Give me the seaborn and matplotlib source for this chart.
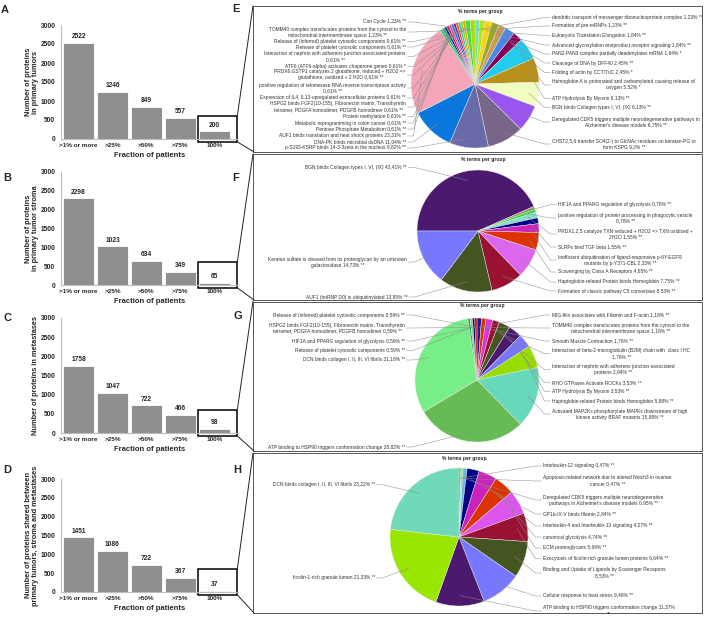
import matplotlib
matplotlib.use('Agg')
from matplotlib import pyplot as plt
from matplotlib.lines import Line2D
from matplotlib.patches import Rectangle
import numpy as np
import pandas as pd
import seaborn as sns

W, H = 704, 620

# bar charts (A-D)
fractions = ['>1% or more', '>25%', '>50%', '>75%', '100%']
tumor_counts = [2522, 1246, 849, 557, 200]
stroma_counts = [2298, 1023, 634, 349, 65]
metastasis_counts = [1758, 1047, 722, 466, 98]
shared_counts = [1451, 1086, 722, 367, 37]
bar_ylabels = [
    'Number of proteins\nin primary tumors',
    'Number of proteins\nin primary tumor stroma',
    'Number of proteins in metastases',
    'Number of proteins shared between\nprimary tumors, stroma and metastases',
]

# pie E: terms for the 100% proteins of primary tumors (clockwise from top)
e_terms = [
    'dendritic transport of messenger ribonucleoprotein complex',
    'Formation of pre-mRNPs',
    'Eukaryotic Translation Elongation',
    'Advanced glycosylation endproduct receptor signaling',
    'PAN2-PAN3 complex partially deadenylates mRNA',
    'Cleavage of DNA by DFF40',
    'Folding of actin by CCT/TriC',
    'Hemoglobin A is protonated and carbamylated causing release of\noxygen',
    'ATP Hydrolysis By Myosin',
    'BGN binds Collagen types I, VI, (IX)',
    'Deregulated CDK5 triggers multiple neurodegenerative pathways in\nAlzheimer\'s disease models',
    'CHST2,5,6 transfer SO4(2-) to GlcNAc residues on keratan-PG to\nform KSPG',
    'p-S193-KSRP binds 14-3-3zeta in the nucleus',
    'DNA-PK binds microbial dsDNA',
    'AUF1 binds translation and heat shock proteins',
    'Pentose Phosphate Metabolism',
    'Metabolic reprogramming in colon cancer',
    'Protein methylation',
    'HSPG2 binds FGF2(10-155), Fibronectin matrix, Transthyretin\ntetramer, PDGFA homodimer, PDGFB homodimer',
    'Expression of IL4, IL13-upregulated extracellular proteins',
    'positive regulation of telomerase RNA reverse transcriptase activity\n',
    'PRDX6:GSTP1 catalyzes 2 glutathione, reduced + H2O2 =>\nglutathione, oxidized + 2 H2O',
    'ATF6 (ATF6-alpha) activates chaperone genes',
    'Interaction of nephrin with adherens junction-associated proteins\n',
    'Release of platelet cytosolic components',
    'Release of (inferred) platelet cytosolic components',
    'TOMM40 complex translocates proteins from the cytosol to the\nmitochondrial intermembrane space',
    'Cori Cycle',
]
e_pcts = [1.23, 1.23, 1.84, 1.84, 1.84, 2.45, 2.45, 5.52, 6.13, 6.13, 6.75, 9.2,
          9.82, 11.04, 23.31, 0.61, 0.61, 0.61, 0.61, 0.61, 0.61, 0.61, 0.61,
          0.61, 0.61, 0.61, 1.23, 1.23]
e_stars = ['**', '**', '**', '**', '*', '**', '*', '*', '**', '**', '**', '**',
           '**', '**', '**', '**', '**', '**', '**', '**', '**', '**', '*',
           '**', '**', '**', '**', '**']

# pie F: 100% proteins of tumor stroma (clockwise from 9 o'clock)
f_terms = [
    'BGN binds Collagen types I, VI, (IX)',
    'HIF1A and PPARG regulation of glycolysis',
    'positive regulation of protein processing in phagocytic vesicle\n',
    'PRDX1,2,5 catalyze TXN reduced + H2O2 => TXN oxidized +\n2H2O',
    'SLRPs bind TGF beta',
    'Inefficient ubiquitination of ligand-responsive p-6Y-EGFR\nmutants by p-Y371-CBL',
    'Scavenging by Class A Receptors',
    'Haptoglobin-related Protein binds Hemoglobin',
    'Formation of classic pathway C5 convertase',
    'AUF1 (hnRNP D0) is ubiquitinylated',
    'Keratan sulfate is cleaved from its proteoglycan by an unknown\ngalactosidase',
]
f_pcts = [43.41, 0.78, 0.78, 1.55, 1.55, 2.33, 4.65, 7.75, 8.53, 13.95, 14.73]
f_stars = ['**'] * 11

# pie G: 100% proteins of metastases
g_terms = [
    'MIG-filin associates with Filamin and F-actin',
    'TOMM40 complex translocates proteins from the cytosol to the\nmitochondrial intermembrane space',
    'Smooth Muscle Contraction',
    'Interaction of beta-2-microglobulin (B2M) chain with  class I HC\n',
    'Interaction of nephrin with adherens junction-associated\nproteins',
    'RHO GTPases Activate ROCKs',
    'ATP Hydrolysis By Myosin',
    'Haptoglobin-related Protein binds Hemoglobin',
    'Activated MAP2Ks phosphorylate MAPKs downstream of high\nkinase activity BRAF mutants',
    'ATP binding to HSP90 triggers conformation change',
    'DCN binds collagen I, II, III, VI fibrils',
    'Release of platelet cytosolic components',
    'HIF1A and PPARG regulation of glycolysis',
    'HSPG2 binds FGF2(10-155), Fibronectin matrix, Transthyretin\ntetramer, PDGFA homodimer, PDGFB homodimer',
    'Release of (inferred) platelet cytosolic components',
]
g_pcts = [1.18, 1.18, 1.76, 1.76, 2.94, 3.53, 3.53, 5.88, 15.88, 28.82, 31.18,
          0.59, 0.59, 0.59, 0.59]
g_stars = ['**'] * 15

# pie H: 100% proteins shared
h_terms = [
    'Interleukin-12 signaling',
    'Apoptosis-related network due to altered Notch3 in ovarian\ncancer',
    'Deregulated CDK5 triggers multiple neurodegenerative\npathways in Alzheimer\'s disease models',
    'GP1b-IX-V binds filamin',
    'Interleukin-4 and Interleukin-13 signaling',
    'canonical glycolysis',
    'ECM proteoglycans',
    'Exocytosis of ficolin-rich granule lumen proteins',
    'Binding and Uptake of Ligands by Scavenger Receptors\n',
    'Cellular response to heat stress',
    'ATP binding to HSP90 triggers conformation change',
    'ficolin-1-rich granule lumen',
    'DCN binds collagen I, II, III, VI fibrils',
]
h_pcts = [0.47, 0.47, 0.95, 2.84, 4.27, 4.74, 5.69, 6.64, 8.53, 9.48, 11.37, 21.33, 23.22]
h_stars = ['**'] * 10 + ['\n**', '**', '**']

# styling / layout
e_colors = ['#77ddbb', '#aaee11', '#ffd21a', '#99aa22', '#cc9955', '#4488ee', '#880055',
            '#22ccee', '#b8901a', '#f0ffc0', '#9955ee', '#776688', '#6a6aaa', '#0a77dd',
            '#f4a6b8', '#33cc55', '#00aa77', '#001177', '#cc1144', '#dd44aa', '#2266dd',
            '#771199', '#ff5500', '#22ccdd', '#99cc00', '#ddaa00', '#44dd44', '#aadd00']
f_colors = ['#4b1a6e', '#99996a', '#22dd33', '#88ddcc', '#000088', '#cc22bb',
            '#dd3300', '#dd66ee', '#991133', '#445522', '#7777ff']
g_colors = ['#1a1a99', '#dd3300', '#dd33dd', '#991133', '#445522', '#4b1a6e', '#7777ff',
            '#99dd00', '#66d9bb', '#66bb55', '#77ee88', '#22aa44', '#88ccaa', '#000066', '#cc0000']
h_colors = ['#33cc33', '#99ddbb', '#66bbdd', '#000088', '#cc22bb', '#dd3300', '#dd55ee',
            '#991133', '#445522', '#7777ff', '#4b1a6e', '#99e600', '#6fd9b9']

e_sides = ['R'] * 12 + ['L'] * 16
e_label_y = [17.5, 26, 35.5, 45, 54, 63, 72.5, 85, 98.6, 107.5, 122, 144,
             148, 142, 136, 129, 123, 116.5, 107, 98, 88, 75, 66.5, 56.5, 47, 41.5, 32, 22]
f_sides = ['L'] + ['R'] * 8 + ['L', 'L']
f_label_y = [167.5, 204.7, 218, 234, 247, 260, 272, 282, 291, 297, 262]
g_sides = ['R'] * 9 + ['L'] * 6
g_label_y = [315, 328, 341, 353.7, 369.5, 382.8, 391.5, 401, 414, 447, 360, 350.7, 341, 328, 315]
h_sides = ['R'] * 11 + ['L', 'L']
h_label_y = [466, 481, 500, 514, 526, 537, 548, 558.8, 573, 596, 611, 578, 484.8]

LABEL_SIZE = 3.55

sns.set_theme(style='white')
plt.rcParams['font.family'] = ['Liberation Sans', 'DejaVu Sans']

fig = plt.figure(figsize=(W / 100, H / 100), dpi=100)


def fig_xy(x, y):
    return x / W, 1 - y / H


def draw_bars(letter, letter_xy, counts, ylabel, top, bottom, pie_top, pie_bottom):
    ax = fig.add_axes([61 / W, 1 - bottom / H, 177 / W, (bottom - top) / H])
    df = pd.DataFrame({'fraction': fractions, 'count': counts})
    sns.barplot(data=df, x='fraction', y='count', color='#8f8f8f', saturation=1,
                width=0.92, edgecolor='white', linewidth=0.6, errorbar=None, ax=ax)
    ax.set_xlim(-0.52, 4.7)
    ax.set_ylim(0, 3000)
    ax.set_yticks(range(0, 3001, 500))
    ax.bar_label(ax.containers[0], fmt='%d', padding=2, fontsize=4.8, fontweight='bold')
    ax.set_ylabel(ylabel, fontsize=5.3, fontweight='bold', labelpad=1, linespacing=1.0)
    ax.set_xlabel('Fraction of patients', fontsize=5.5, fontweight='bold', labelpad=3)
    ax.tick_params(axis='x', length=0, pad=3, labelsize=4.6)
    ax.tick_params(axis='y', length=2, width=0.6, color='#bdbdbd', pad=2, labelsize=4.8)
    for t in ax.get_xticklabels() + ax.get_yticklabels():
        t.set_fontweight('bold')
    sns.despine(ax=ax)
    for s in ('left', 'bottom'):
        ax.spines[s].set_color('#bdbdbd')
        ax.spines[s].set_linewidth(0.8)
    # zoom box around the 100% bar
    ax.add_patch(Rectangle((3.52, -75), 1.16, 680, fill=False, ec='black', lw=1.1, clip_on=False))
    to_fig = ax.transData + fig.transFigure.inverted()
    p_top = to_fig.transform((4.68, 605))
    p_bot = to_fig.transform((4.68, -75))
    q_top = fig_xy(253, pie_top)
    q_bot = fig_xy(254, pie_bottom)
    fig.add_artist(Line2D([p_top[0], q_top[0]], [p_top[1], q_top[1]],
                          transform=fig.transFigure, color='#222222', lw=0.7))
    fig.add_artist(Line2D([p_bot[0], q_bot[0]], [p_bot[1], q_bot[1]],
                          transform=fig.transFigure, color='#222222', lw=0.7))
    lx, ly = fig_xy(*letter_xy)
    fig.text(lx, ly, letter, fontsize=8, fontweight='bold', ha='left', va='top')


def draw_pie(letter, letter_xy, terms, pcts, stars, colors, sides, label_y,
             box, center, radius, start, x_left, x_right, title_y):
    x0, y0, x1, y1 = box
    ax = fig.add_axes([x0 / W, 1 - y1 / H, (x1 - x0) / W, (y1 - y0) / H])
    cx, cy = center[0], H - center[1]
    wedges, _ = ax.pie(pcts, colors=colors, startangle=start, counterclock=False,
                       center=(cx, cy), radius=radius, frame=True,
                       wedgeprops=dict(edgecolor='#e8e8e8', linewidth=0.3))
    ax.set_xlim(x0, x1)
    ax.set_ylim(H - y1, H - y0)
    ax.set_xticks([])
    ax.set_yticks([])
    for s in ax.spines.values():
        s.set_color('#555555')
        s.set_linewidth(0.7)
    ax.text(cx + 5, H - title_y, '% terms per group', ha='center', va='center',
            fontsize=3.6, fontweight='bold')
    for w, term, p, st, side, y in zip(wedges, terms, pcts, stars, sides, label_y):
        sep = '' if term.endswith('\n') else ' '
        star = st if st.startswith('\n') else ' ' + st
        label = '{}{}{}%{}'.format(term, sep, str(p).replace('.', ','), star)
        yy = H - y
        if side == 'R':
            tx, ha, dx = x_right, 'left', -1
        else:
            tx, ha, dx = x_left, 'right', 1
        ax.text(tx, yy, label, ha=ha, va='center', multialignment='center',
                fontsize=LABEL_SIZE, linespacing=1.25, color='#333333')
        mid = np.deg2rad((w.theta1 + w.theta2) / 2)
        px = cx + 0.85 * radius * np.cos(mid)
        py = cy + 0.85 * radius * np.sin(mid)
        sx = tx + dx * 1.5
        ax.plot([sx, sx + dx * 6, px], [yy, yy, py], color='#8a8a8a', lw=0.35)
    lx, ly = fig_xy(*letter_xy)
    fig.text(lx, ly, letter, fontsize=8, fontweight='bold', ha='left', va='top')


pie_boxes = [(253, 6, 702, 152), (253, 154, 702, 300), (253, 301.5, 702, 451), (253, 453, 702, 613)]

draw_bars('A', (1, 5), tumor_counts, bar_ylabels[0], 25, 139, pie_boxes[0][1], pie_boxes[0][3])
draw_bars('B', (3, 173), stroma_counts, bar_ylabels[1], 172, 285, pie_boxes[1][1], pie_boxes[1][3])
draw_bars('C', (3, 313), metastasis_counts, bar_ylabels[2], 318, 433, pie_boxes[2][1], pie_boxes[2][3])
draw_bars('D', (3, 465), shared_counts, bar_ylabels[3], 479, 592, pie_boxes[3][1], pie_boxes[3][3])

draw_pie('E', (232, 4), e_terms, e_pcts, e_stars, e_colors, e_sides, e_label_y,
         pie_boxes[0], (475, 84), 64, 90, 406, 552, 11.5)
draw_pie('F', (232, 173), f_terms, f_pcts, f_stars, f_colors, f_sides, f_label_y,
         pie_boxes[1], (478, 231), 61, 180, 407, 558, 159)
draw_pie('G', (234, 311), g_terms, g_pcts, g_stars, g_colors, g_sides, g_label_y,
         pie_boxes[2], (477, 380), 62, 90, 405, 552, 306)
draw_pie('H', (233, 465), h_terms, h_pcts, h_stars, h_colors, h_sides, h_label_y,
         pie_boxes[3], (459, 537), 69, 90, 375, 543, 458.5)

fig.savefig('out.png', dpi=100)
